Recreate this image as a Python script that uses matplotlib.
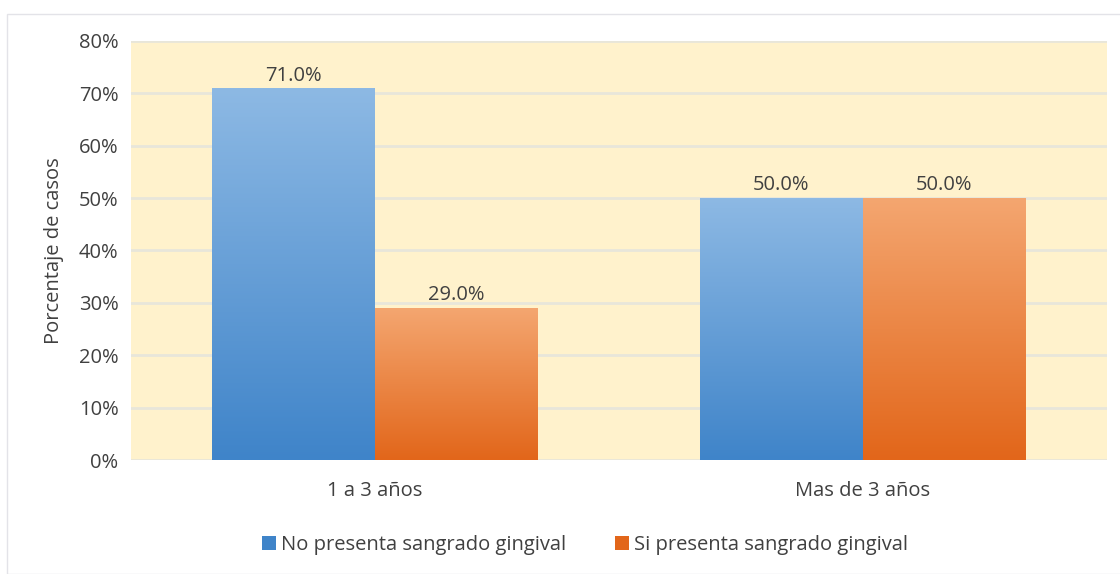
import numpy as np
import matplotlib.pyplot as plt
from matplotlib.patches import Rectangle, Patch
from matplotlib.colors import LinearSegmentedColormap

plt.rcParams['font.family'] = ['Open Sans', 'DejaVu Sans']

categorias = ['1 a 3 años', 'Mas de 3 años']
no_sangrado = [71.0, 50.0]
si_sangrado = [29.0, 50.0]
series = ['No presenta sangrado gingival', 'Si presenta sangrado gingival']

azul = ('#8DB9E4', '#3F84C9')
naranja = ('#F4A670', '#E2661A')
fs = 14.5

fig = plt.figure(figsize=(11.2, 5.74), dpi=100)
ax = fig.add_axes([0.117, 0.1986, 0.871, 0.73])
ax.set_facecolor('#FFF2CC')

fig.patches.append(Rectangle((7 / 1120, 0), 1.2, 1 - 14 / 574, transform=fig.transFigure,
                             fill=False, edgecolor='#E3E3E8', linewidth=1))

x = np.arange(len(categorias))
w = 1 / 3
b1 = ax.bar(x - w / 2, no_sangrado, w, color='none', zorder=2)
b2 = ax.bar(x + w / 2, si_sangrado, w, color='none', zorder=2)


def degradado(barras, colores):
    cmap = LinearSegmentedColormap.from_list('g', [colores[1], colores[0]])
    grad = np.linspace(0, 1, 256).reshape(-1, 1)
    for b in barras:
        x0, y0 = b.get_x(), b.get_y()
        x1, y1 = x0 + b.get_width(), y0 + b.get_height()
        im = ax.imshow(grad, cmap=cmap, aspect='auto', origin='lower',
                       extent=[x0, x1, y0, y1], zorder=3)
        im.set_clip_path(b)


degradado(b1, azul)
degradado(b2, naranja)

for barras, vals in [(b1, no_sangrado), (b2, si_sangrado)]:
    for b, v in zip(barras, vals):
        ax.text(b.get_x() + b.get_width() / 2, v + 0.5, f'{v:.1f}%', ha='center', va='bottom',
                fontsize=fs, color='#404040', zorder=4)

ax.set_xlim(-0.5, 1.5)
ax.set_ylim(0, 80)
ax.set_yticks(np.arange(0, 81, 10))
ax.set_yticklabels([f'{v}%' for v in range(0, 81, 10)], fontsize=fs, color='#404040')
ax.set_xticks(x)
ax.set_xticklabels(categorias, fontsize=fs, color='#404040')
ax.tick_params(axis='both', length=0)
ax.tick_params(axis='y', pad=9)
ax.tick_params(axis='x', pad=15)
ax.grid(axis='y', color='#E8E6DA', linewidth=2, zorder=1)
ax.set_axisbelow(True)
for s in ax.spines.values():
    s.set_visible(False)
ax.set_ylabel('Porcentaje de casos', fontsize=fs, color='#404040', labelpad=11)

handles = [Patch(facecolor=azul[1], label=series[0]), Patch(facecolor=naranja[1], label=series[1])]
fig.legend(handles=handles, loc='center', bbox_to_anchor=(585 / 1120, 1 - 545 / 574), ncol=2,
           frameon=False, fontsize=fs, handlelength=0.7, handleheight=0.7, handletextpad=0.25,
           columnspacing=2.4, labelcolor='#404040')

fig.savefig('out.png', dpi=100)
